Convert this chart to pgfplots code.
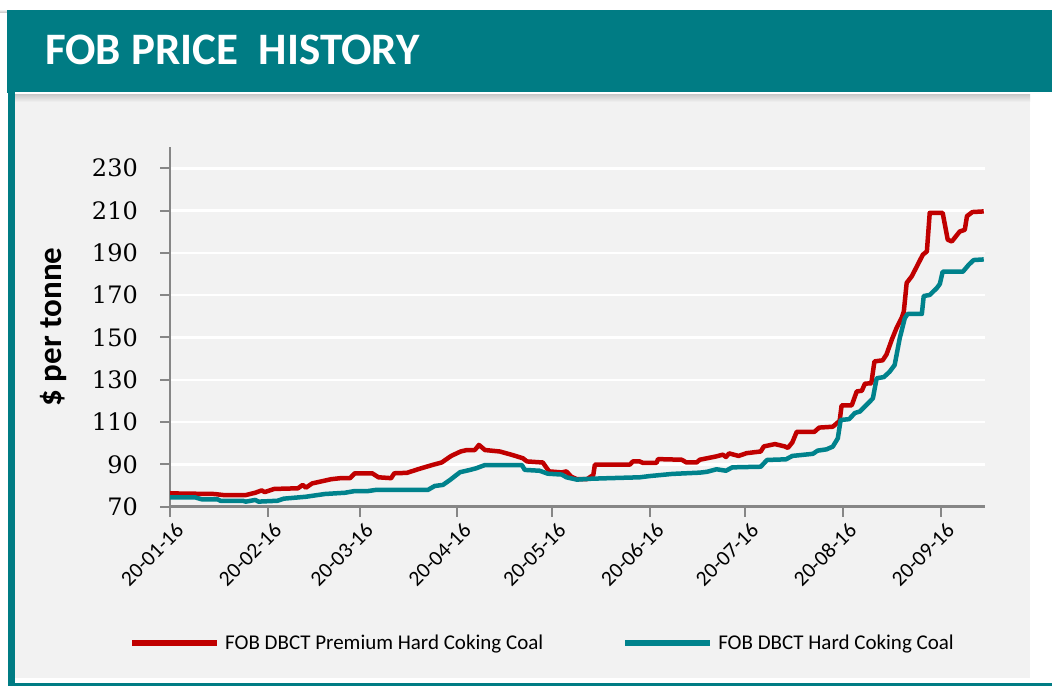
\documentclass[border=0pt]{standalone}
\usepackage{fontspec}
\setmainfont{Carlito}
\newfontfamily\numfont{DejaVu Serif}
\usepackage{pgfplots}
\pgfplotsset{compat=1.18}
\definecolor{hdr}{RGB}{0,124,132}
\definecolor{tealline}{RGB}{0,130,140}
\definecolor{redline}{RGB}{192,0,0}
\definecolor{axgray}{RGB}{134,134,134}
\definecolor{panel}{RGB}{242,242,242}

\pgfplotstableread{
d v
0 76.3
14 76
17 75.5
24 75.5
27 76.6
29 77.7
30 76.9
33 78.4
40.5 78.7
42 80.3
43 79
45 81
51 83
54 83.5
57 83.5
58.5 85.8
64 85.8
66 83.9
70 83.5
71 85.8
75 86
78.5 87.7
83 89.7
86 90.9
89 94
92 96.1
94 96.8
96.5 96.8
97.8 99.2
99.7 96.8
104.4 96.1
108.5 94.4
111.7 92.9
113 91.4
118 90.9
120 86.7
124 86.2
125.5 86.7
127 84.2
128.8 83
132 83
134 85
134.5 89.9
145.6 89.9
146.5 91.4
148.7 91.4
149.7 90.7
154 90.7
154.5 92.5
162 92.2
163.5 90.9
166.7 90.9
167.7 92.2
173 93.8
175 94.6
176 93.5
177 95.2
180 94
182.5 95.3
187 96.1
188 98.5
191.5 99.6
194.6 98.5
195.6 97.8
197 100.4
198.4 105.4
204 105.4
205.5 107.4
209.8 107.8
212 110.6
212.6 117.9
215.8 117.9
217.4 124.5
219 124.8
220 128.2
222 128.3
223 138.7
225.6 139.2
226.8 141.9
228.5 149
230 154.5
231.6 159.2
232.3 162.3
233.2 175.8
234.8 178.9
236.7 184.4
238.3 189.1
239.6 190.7
240.5 208.9
244.6 208.9
246.2 196.2
247.5 195.4
250 200.1
251.6 200.9
252.3 207.4
254 209.3
257.6 209.6
}\premium

\pgfplotstableread{
d v
0 74.4
8 74.4
10 73.5
15 73.5
16 72.8
23 72.8
24 72.4
27 73.2
28 72.4
34 72.8
36 73.8
43 74.7
49 76
55.4 76.6
58.5 77.4
62.7 77.4
65 77.9
81.6 77.9
83.8 79.8
86.4 80.3
88.6 82.6
91.8 86.3
95 87.4
97 88.2
99.7 89.7
111.4 89.7
112.3 87.4
117 87
119.6 85.6
124 85.2
125.5 83.9
128.8 82.8
133 83.2
137 83.4
148.7 83.9
152 84.5
159 85.5
167.7 86.1
170 86.5
173 87.7
176 87
178 88.6
187 88.9
189 92.1
195 92.4
197 94
203.5 95
205 96.5
207.8 97.1
209.8 98.4
211.4 102.3
212.3 111
215 111.4
216.8 114.3
218.4 115
221 118.9
222.5 121.2
223.7 130.7
226 131.3
227.8 133.8
229.4 137
231 149.6
232.6 159.1
233.5 161.1
238 161.1
238.6 169.6
240.5 170.1
242.7 173.3
243.7 175.3
244.6 181.1
251 181.1
252.8 184.3
254.4 186.6
257.6 186.9
}\hard

\begin{document}
\begin{tikzpicture}[x=1pt,y=1pt]
\useasboundingbox (0,0) rectangle (1052,686);
\fill[white] (0,0) rectangle (1052,686);
\shade[top color=white, bottom color=black!25] (0,673) rectangle (1052,677);
\fill[hdr] (7,593) rectangle (1052,676);
\fill[panel] (15,8) rectangle (1030,593);
\shade[top color=black!22, bottom color=panel] (15,584) rectangle (1030,592);
\fill[white] (15,592) rectangle (1052,593.5);
\fill[hdr] (8,0) rectangle (15,593);
\fill[hdr] (8,0) rectangle (1052,3);
\node[anchor=base west, inner sep=0pt, text=white, font=\bfseries\fontsize{45}{45}\selectfont] at (45,621) {FOB PRICE\ \ HISTORY};
\node[rotate=90, inner sep=0pt, font=\bfseries\fontsize{33}{33}\selectfont] at (53,359) {\$ per tonne};

\begin{axis}[
  at={(170pt,179.3pt)}, anchor=south west,
  scale only axis, width=815pt, height=359.6pt,
  xmin=0, xmax=258, ymin=70, ymax=240,
  axis x line*=bottom, axis y line*=left,
  axis line style={draw=axgray, line width=2.5pt, -},
  xtick={0,31,60,91,121,152,182,213,244},
  xticklabels={20-01-16,20-02-16,20-03-16,20-04-16,20-05-16,20-06-16,20-07-16,20-08-16,20-09-16},
  ytick={70,90,...,230},
  tick align=outside, major tick length=10pt,
  every tick/.style={axgray, line width=2pt},
  ymajorgrids, major grid style={white, line width=2.5pt},
  /pgf/number format/assume math mode=true,
  yticklabel style={font=\numfont\fontsize{24}{24}\selectfont, inner sep=0pt, xshift=-22pt},
  xticklabel style={font=\fontsize{21.5}{21.5}\selectfont, rotate=45, anchor=east, inner sep=0pt, yshift=-14pt, xshift=0pt},
  legend columns=2,
  legend style={at={(-0.0503,-0.379)}, anchor=west, draw=none, fill=none, inner sep=0pt,
    font=\fontsize{21}{21}\selectfont, nodes={inner sep=0pt},
    /tikz/every odd column/.append style={column sep=5pt},
    /tikz/every even column/.append style={column sep=79pt}},
  legend cell align=left,
  legend image code/.code={\draw[#1, line width=6pt] (0pt,0pt) -- (85pt,0pt);},
]
\addplot[redline, line width=4.5pt, line join=round] table[x=d,y=v] {\premium};
\addlegendentry{FOB DBCT Premium Hard Coking Coal}
\addplot[tealline, line width=4.5pt, line join=round] table[x=d,y=v] {\hard};
\addlegendentry{FOB DBCT Hard Coking Coal}
\end{axis}
\end{tikzpicture}
\end{document}
